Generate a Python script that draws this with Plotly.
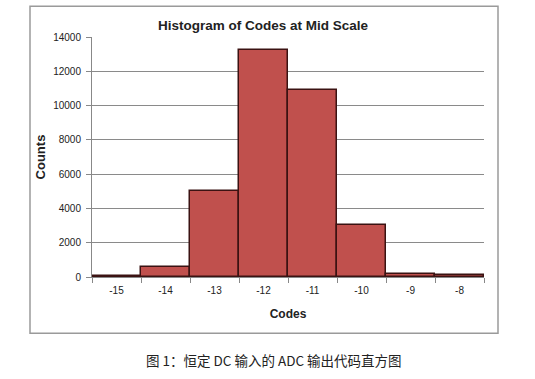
import plotly.graph_objects as go

codes = ["-15", "-14", "-13", "-12", "-11", "-10", "-9", "-8"]
counts = [80, 580, 5010, 13270, 10890, 3030, 200, 90]
y_ticks = [0, 2000, 4000, 6000, 8000, 10000, 12000, 14000]
y_tick_labels = ["0", "2000", "4000", "6000", "8000", "10000", "12000", "14000"]

L, R, T, B = 92, 51, 36.7, 102.3
W, H = 535, 379
pw = W - L - R
ph = H - T - B

def px_x(x):
    return (x - L) / pw

def px_y(y):
    return (H - B - y) / ph

FONT = "Liberation Sans, Arial, sans-serif"

fig = go.Figure()
fig.add_trace(go.Bar(
    x=codes, y=counts,
    marker=dict(color="#C0504D", line=dict(color="#3B1212", width=1.5)),
    hoverinfo="x+y",
))

fig.update_layout(
    width=W, height=H,
    margin=dict(l=L, r=R, t=T, b=B),
    paper_bgcolor="white", plot_bgcolor="white",
    bargap=0, showlegend=False,
    font=dict(family=FONT, color="#222"),
    xaxis=dict(
        type="category", range=[-0.5, 7.5], automargin=False,
        tickson="boundaries", ticks="outside", ticklen=5, tickcolor="#888",
        ticklabelstandoff=4,
        showline=True, linecolor="#888", linewidth=1,
        showgrid=False, tickfont=dict(size=10, color="#222", family=FONT),
        title=dict(text="<b>Codes</b>", font=dict(size=12, color="#222", family=FONT), standoff=14),
    ),
    yaxis=dict(
        range=[0, 14000], tickvals=y_ticks, ticktext=y_tick_labels, automargin=False,
        ticks="outside", ticklen=5, tickcolor="#888", ticklabelstandoff=3,
        showline=True, linecolor="#888", linewidth=1,
        showgrid=True, gridcolor="#8a8a8a", gridwidth=1,
        zeroline=False, tickfont=dict(size=10, color="#222", family=FONT),
        title=dict(text="<b>Counts</b>", font=dict(size=13, color="#222", family=FONT), standoff=4),
    ),
)

fig.add_shape(type="rect", xref="paper", yref="paper",
              x0=px_x(30), x1=px_x(498), y0=px_y(333), y1=px_y(6),
              line=dict(color="#9a9a9a", width=1.5), layer="below")

fig.add_annotation(text="<b>Histogram of Codes at Mid Scale</b>", xref="paper", yref="paper",
                   x=px_x(263), y=px_y(25), xanchor="center", yanchor="middle", showarrow=False,
                   font=dict(size=13.5, color="#222", family=FONT))

fig.add_annotation(text="图 1：恒定 DC 输入的 ADC 输出代码直方图", xref="paper", yref="paper",
                   x=px_x(274), y=px_y(360), xanchor="center", yanchor="middle", showarrow=False,
                   font=dict(size=13.5, family="Noto Sans CJK SC, sans-serif", color="#222"))

fig.write_html("out.html", post_script="document.body.style.margin='0';",
               config={"displayModeBar": False})
